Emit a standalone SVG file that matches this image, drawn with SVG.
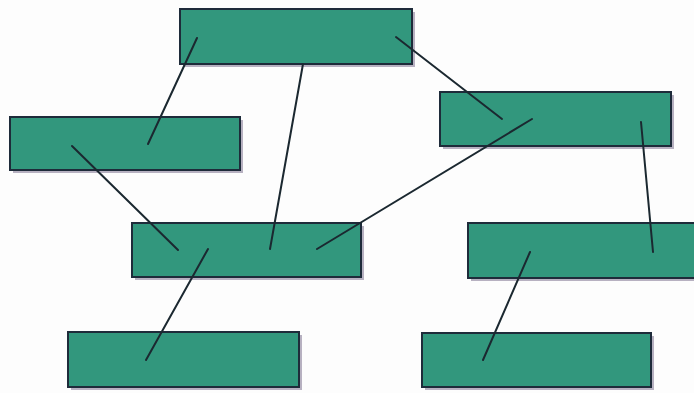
<svg xmlns="http://www.w3.org/2000/svg" width="694" height="393" viewBox="0 0 694 393">
<style>
.box{fill:#32977d;stroke:#1e2b3a;stroke-width:2}
.sh{fill:#7d7290;opacity:0.55}
.ln{stroke:#1b2830;stroke-width:2;fill:none;stroke-linecap:round}
</style>
<rect x="0" y="0" width="694" height="393" fill="#fdfdfd"/>
<g id="n1"><rect class="sh" x="183" y="12" width="232" height="55"/><rect class="box" x="180" y="9" width="232" height="55"/></g>
<g id="n2"><rect class="sh" x="13" y="120" width="230" height="53"/><rect class="box" x="10" y="117" width="230" height="53"/></g>
<g id="n3"><rect class="sh" x="135" y="226" width="229" height="54"/><rect class="box" x="132" y="223" width="229" height="54"/></g>
<g id="n4"><rect class="sh" x="443" y="95" width="231" height="54"/><rect class="box" x="440" y="92" width="231" height="54"/></g>
<g id="n5"><rect class="sh" x="471" y="226" width="232" height="55"/><rect class="box" x="468" y="223" width="232" height="55"/></g>
<g id="n6"><rect class="sh" x="71" y="335" width="231" height="55"/><rect class="box" x="68" y="332" width="231" height="55"/></g>
<g id="n7"><rect class="sh" x="425" y="336" width="229" height="54"/><rect class="box" x="422" y="333" width="229" height="54"/></g>
<g id="connectors">
<line class="ln" x1="197" y1="38" x2="148" y2="144"/>
<line class="ln" x1="303" y1="64" x2="270" y2="249"/>
<line class="ln" x1="396" y1="37" x2="502" y2="119"/>
<line class="ln" x1="72" y1="146" x2="178" y2="250"/>
<line class="ln" x1="532" y1="119" x2="317" y2="249"/>
<line class="ln" x1="641" y1="122" x2="653" y2="252"/>
<line class="ln" x1="208" y1="249" x2="146" y2="360"/>
<line class="ln" x1="530" y1="252" x2="483" y2="360"/>
</g>
</svg>
